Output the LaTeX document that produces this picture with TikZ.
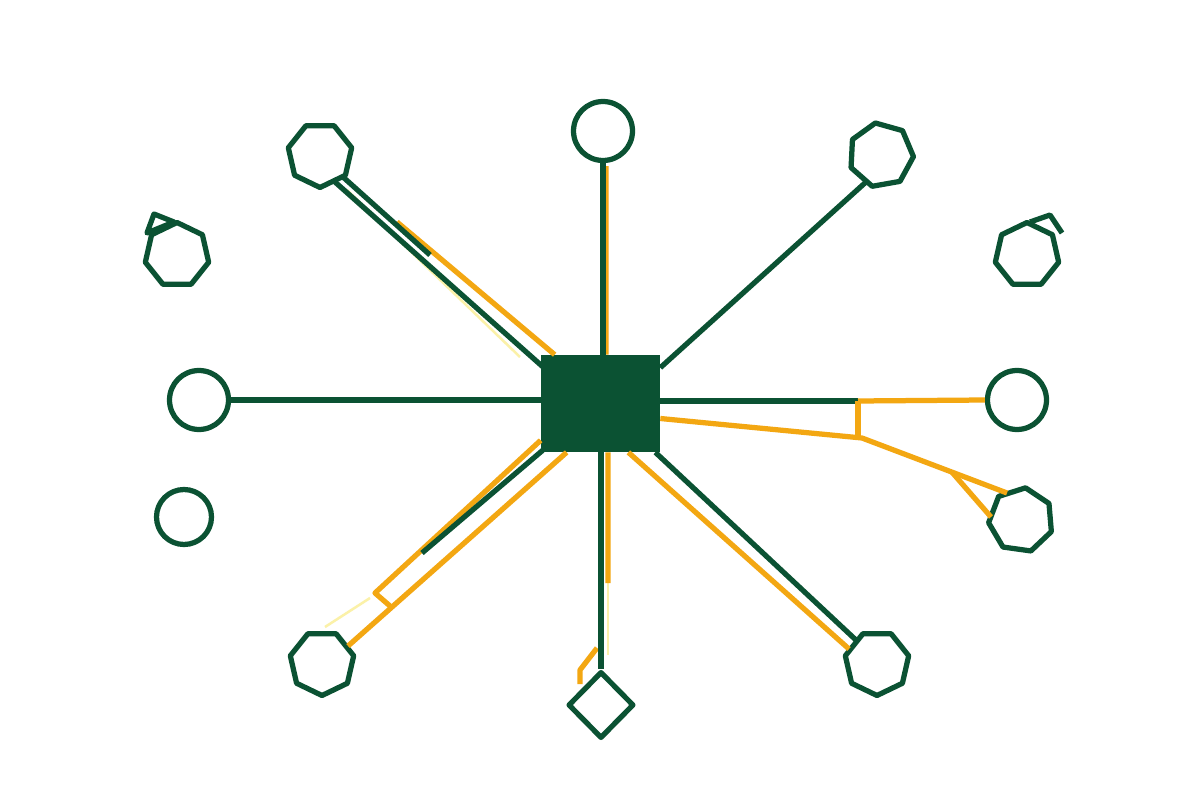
\documentclass[tikz,border=0pt]{standalone}
\usetikzlibrary{shapes.geometric,calc}
\definecolor{dg}{HTML}{0B5233}
\definecolor{og}{HTML}{F3A712}
\definecolor{pale}{HTML}{FBF1A8}
\begin{document}
\begin{tikzpicture}[x=0.02cm,y=-0.02cm,
 ring/.style={circle,draw=dg,line width=0.105cm,fill=white,minimum size=1.18cm,inner sep=0pt},
 hept/.style={regular polygon,regular polygon sides=7,draw=dg,line width=0.105cm,fill=white,minimum size=1.3cm,inner sep=0pt},
 gl/.style={draw=dg,line width=0.105cm},
 ol/.style={draw=og,line width=0.105cm},
 pl/.style={draw=pale,line width=0.05cm},
 line join=round]
\useasboundingbox[fill=white] (0,0) rectangle (1200,800);
% nodes
\node[fill=dg,minimum width=2.38cm,minimum height=1.94cm,inner sep=0pt] (sq) at (600.5,403.5) {};
\node[ring] (top) at (603,131) {};
\node[hept,rotate=180] (tl) at (320,155) {};
\node[hept,rotate=10] (tr) at (881,155) {};
\node[hept] (lu) at (177,255) {};
\node[hept] (ru) at (1027,255) {};
\node[ring] (l) at (199,400) {};
\node[ring] (r) at (1017,400) {};
\node[ring,minimum size=1.1cm] (ll) at (184,517) {};
\node[hept,rotate=-8] (rl) at (1021,520) {};
\node[hept,rotate=180] (bl) at (322,663) {};
\node[diamond,draw=dg,line width=0.105cm,fill=white,minimum width=1.32cm,minimum height=1.34cm,inner sep=0pt] (b) at (601,705) {};
\node[hept,rotate=180] (br) at (877,663) {};
% small extra strokes on two heptagons
\draw[gl] ($(lu)+(-23,-41)$) -- ($(lu)+(-30,-22)$) -- ($(lu)+(-3,-33)$) -- cycle;
\draw[gl] ($(ru)+(3,-33)$) -- ($(ru)+(23,-40)$) -- ($(ru)+(35,-22)$);
% coordinates for free ends
\coordinate (tlb) at (430,255);
\coordinate (tlo) at (397,222);
\coordinate (rj) at (858,401);
\coordinate (rk) at (862,438);
\coordinate (bo) at (608,583);
\coordinate (bp) at (608,655);
\coordinate (bq1) at (597,648);
\coordinate (bq2) at (580,670);
\coordinate (bq3) at (580,684);
\coordinate (blk) at (375,593);
\coordinate (blm) at (390,606);
\coordinate (blg) at (422,553);
% top
\draw[ol] ($(top.south)+(3,3)$) -- ($(sq.north)+(5.5,0)$);
\draw[gl] (top.south) -- (top.south |- sq.north);
% top left
\draw[pl] (347,190) -- (520,357);
\draw[ol] (tlo) -- ($(sq.north west)+(14,0)$);
\draw[gl] ($(tl)+(15,27)$) -- ($(sq.north west)+(2,12)$);
\draw[gl] ($(tl)+(23,22)$) -- (tlb);
% top right
\draw[gl] ($(tr)+(-15,27)$) -- ($(sq.north east)+(0,13)$);
% left
\draw[gl] (l.east) -- (l.east -| sq.west);
% right
\draw[gl] ($(sq.east)+(0,-2.5)$) -- (rj);
\draw[ol] (rj) -- (r.west);
\draw[ol] (rj) -- (rj |- rk);
\draw[ol] ($(sq.east)+(0,15)$) -- (rk) -- ($(rl)+(-14,-27)$);
\draw[ol] ($(rk)!0.62!($(rl)+(-14,-27)$)$) -- ($(rl)+(-30,-3)$);
% bottom right
\draw[ol] ($(sq.south east)+(-32,0)$) -- ($(br)+(-28,-14)$);
\draw[gl] ($(sq.south east)+(-5,0)$) -- ($(br)+(-20,-22)$);
% bottom
\draw[pl] (bo) -- (bp);
\draw[ol] ($(sq.south)+(7.5,0)$) -- (bo);
\draw[ol] (bq1) -- (bq2) -- (bq3);
\draw[gl] (b.north |- sq.south) -- (b.north);
% bottom left
\draw[pl] (370,598) -- (325,627);
\draw[ol] ($(sq.south west)+(0,-12)$) -- (blk) -- (blm);
\draw[ol] ($(sq.south west)+(26,0)$) -- ($(bl)+(26,-17)$);
\draw[gl] ($(sq.south west)+(2,-2)$) -- (blg);
\end{tikzpicture}
\end{document}
